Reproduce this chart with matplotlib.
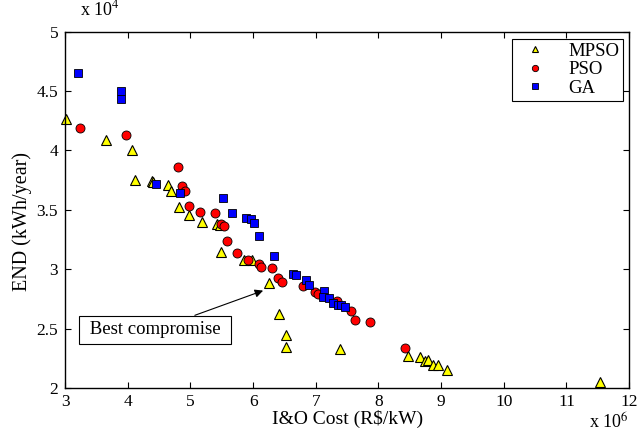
import matplotlib
matplotlib.use('Agg')
import matplotlib.pyplot as plt

plt.rcParams['font.family'] = ['Liberation Serif', 'DejaVu Serif']
plt.rcParams['mathtext.fontset'] = 'stix'

# Pareto fronts, cost in 1e6 R$/kW, END in 1e4 kWh/year
mpso_cost = [3.02, 3.65, 4.07, 4.12, 4.38, 4.41, 4.65, 4.69, 4.81, 4.97, 5.18, 5.43, 5.47,
             5.49, 5.85, 5.98, 6.25, 6.42, 6.53, 6.53, 7.39, 8.48, 8.67, 8.75, 8.79, 8.87,
             8.95, 9.10, 11.54]
mpso_end = [4.26, 4.09, 4.00, 3.75, 3.74, 3.73, 3.71, 3.66, 3.525, 3.46, 3.40, 3.38, 3.37,
            3.145, 3.08, 3.08, 2.88, 2.62, 2.45, 2.345, 2.33, 2.27, 2.26, 2.225, 2.24, 2.195,
            2.195, 2.155, 2.05]

pso_cost = [3.24, 3.97, 4.80, 4.86, 4.92, 4.98, 5.15, 5.40, 5.49, 5.53, 5.59, 5.74, 5.92,
            6.10, 6.13, 6.31, 6.39, 6.46, 6.80, 6.99, 7.03, 7.34, 7.56, 7.62, 7.86, 8.43]
pso_end = [4.19, 4.13, 3.86, 3.70, 3.66, 3.53, 3.48, 3.47, 3.38, 3.36, 3.235, 3.14, 3.08,
           3.04, 3.02, 3.01, 2.93, 2.89, 2.86, 2.81, 2.79, 2.73, 2.65, 2.575, 2.555, 2.34]

ga_cost = [3.21, 3.89, 3.89, 4.45, 4.83, 5.52, 5.67, 5.88, 5.96, 6.01, 6.09, 6.34, 6.63,
           6.69, 6.84, 6.89, 7.13, 7.12, 7.21, 7.27, 7.35, 7.40, 7.46]
ga_end = [4.65, 4.50, 4.43, 3.715, 3.64, 3.60, 3.47, 3.43, 3.42, 3.39, 3.28, 3.115, 2.96,
          2.95, 2.91, 2.87, 2.82, 2.77, 2.76, 2.72, 2.70, 2.70, 2.68]

best_point = (6.16, 2.82)
box_pos = (4.43, 2.49)

fig = plt.figure(figsize=(6.38, 4.38), dpi=100)
ax = fig.add_axes([0.102, 0.114, 0.884, 0.814])

ax.plot(mpso_cost, mpso_end, linestyle='none', marker='^', markersize=7,
        markerfacecolor='yellow', markeredgecolor='black', markeredgewidth=0.8,
        label='MPSO', clip_on=False)
ax.plot(pso_cost, pso_end, linestyle='none', marker='o', markersize=6.5,
        markerfacecolor='red', markeredgecolor='black', markeredgewidth=0.6,
        label='PSO', clip_on=False)
ax.plot(ga_cost, ga_end, linestyle='none', marker='s', markersize=6,
        markerfacecolor='blue', markeredgecolor='black', markeredgewidth=0.6,
        label='GA', clip_on=False)

ax.annotate(' Best compromise ', xy=best_point, xytext=box_pos, fontsize=13.5,
            ha='center', va='center',
            bbox=dict(boxstyle='square,pad=0.3', fc='white', ec='black', lw=0.8),
            arrowprops=dict(arrowstyle='-|>', color='black', lw=0.8, mutation_scale=12,
                            shrinkA=0, shrinkB=0))

ax.set_xlim(3, 12)
ax.set_ylim(2, 5)
ax.set_xticks(range(3, 13))
ax.set_yticks([2, 2.5, 3, 3.5, 4, 4.5, 5])
ax.set_xticklabels([str(v) for v in range(3, 13)])
ax.set_yticklabels(['2', '2.5', '3', '3.5', '4', '4.5', '5'])
ax.tick_params(direction='in', top=True, right=True, labelsize=12.5, length=4, width=0.8)
ax.tick_params(axis='x', pad=4)
ax.tick_params(axis='y', pad=5)
for s in ax.spines.values():
    s.set_linewidth(1.0)

ax.set_xlabel('I&O Cost (R\\$/kW)', fontsize=14, labelpad=0)
ax.set_ylabel('END (kWh/year)', fontsize=14.5)
ax.yaxis.set_label_coords(-0.059, 0.466)

fig.text(0.125, 0.955, r'x 10$^4$', fontsize=13, ha='left', va='bottom')
fig.text(0.985, 0.012, r'x 10$^6$', fontsize=13, ha='right', va='bottom')

leg = ax.legend(loc='upper right', fontsize=13.5, markerscale=0.7, fancybox=False,
                edgecolor='black', framealpha=1, borderpad=0.2, handletextpad=0.8,
                labelspacing=0.08, borderaxespad=0, bbox_to_anchor=(0.99, 0.98))
leg.get_frame().set_linewidth(0.8)

fig.savefig('out.png', dpi=100)
